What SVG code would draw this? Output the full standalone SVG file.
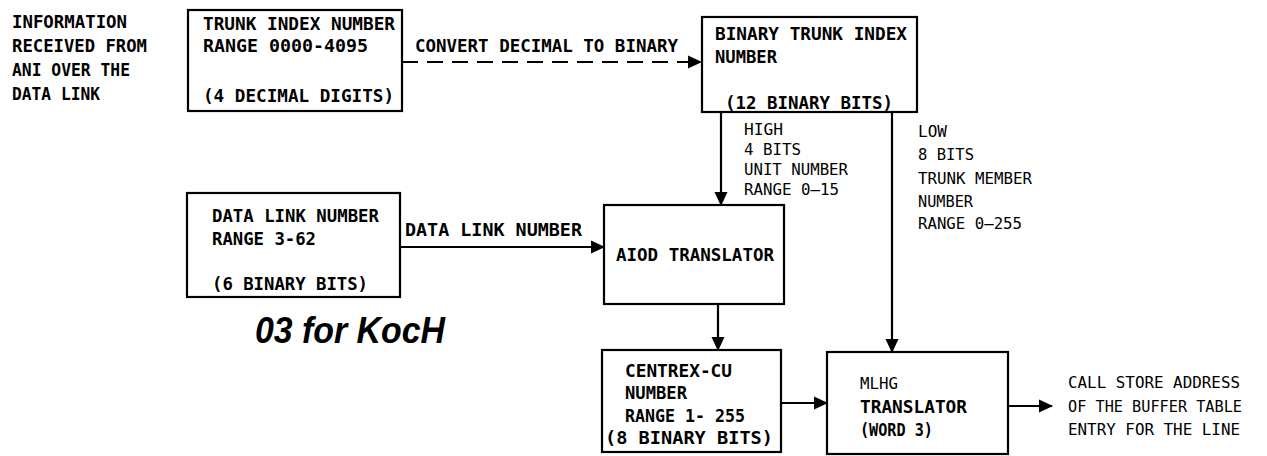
<svg xmlns="http://www.w3.org/2000/svg" width="1267" height="456" viewBox="0 0 1267 456">
  <style>
    .box { fill: #fff; stroke: #000; stroke-width: 2.2; }
    .wire { fill: none; stroke: #000; stroke-width: 2.2; }
    .dash { stroke-dasharray: 16 9; }
    .b { font-family: "DejaVu Sans Mono", "Liberation Mono", monospace; font-weight: bold; font-size: 17.5px; fill: #000; }
    .r { font-family: "DejaVu Sans Mono", "Liberation Mono", monospace; font-size: 16.5px; fill: #000; }
    .hand { font-family: "Liberation Sans", Arial, sans-serif; font-weight: bold; font-style: italic; font-size: 36px; fill: #000; }
  </style>
  <defs>
    <marker id="arrow" markerUnits="userSpaceOnUse" markerWidth="14" markerHeight="14" viewBox="0 0 14 14" refX="13" refY="7" orient="auto">
      <path d="M0,0.5 L14,7 L0,13.5 Z" fill="#000"/>
    </marker>
  </defs>

  <rect width="1267" height="456" fill="#fff"/>

  <!-- source note -->
  <g id="note-source">
    <text class="b" x="12" y="28" textLength="115" lengthAdjust="spacingAndGlyphs">INFORMATION</text>
    <text class="b" x="12" y="52" textLength="135" lengthAdjust="spacingAndGlyphs">RECEIVED FROM</text>
    <text class="b" x="12" y="76" textLength="118" lengthAdjust="spacingAndGlyphs">ANI OVER THE</text>
    <text class="b" x="12" y="100" textLength="88" lengthAdjust="spacingAndGlyphs">DATA LINK</text>
  </g>

  <!-- connectors -->
  <g id="connectors">
    <line class="wire dash" x1="402" y1="62" x2="701" y2="62" marker-end="url(#arrow)"/>
    <line class="wire" x1="721" y1="112" x2="721" y2="205" marker-end="url(#arrow)"/>
    <line class="wire" x1="892" y1="112" x2="892" y2="352" marker-end="url(#arrow)"/>
    <line class="wire" x1="400" y1="247" x2="604" y2="247" marker-end="url(#arrow)"/>
    <line class="wire" x1="718" y1="304" x2="718" y2="350" marker-end="url(#arrow)"/>
    <line class="wire" x1="781" y1="403" x2="827" y2="403" marker-end="url(#arrow)"/>
    <line class="wire" x1="1008" y1="406" x2="1052" y2="406" marker-end="url(#arrow)"/>

    <text class="b" x="415" y="52" textLength="263" lengthAdjust="spacingAndGlyphs">CONVERT DECIMAL TO BINARY</text>
    <text class="b" x="405" y="236" textLength="177" lengthAdjust="spacingAndGlyphs">DATA LINK NUMBER</text>

    <text class="r" x="744" y="135" textLength="39" lengthAdjust="spacingAndGlyphs">HIGH</text>
    <text class="r" x="744" y="155" textLength="57" lengthAdjust="spacingAndGlyphs">4 BITS</text>
    <text class="r" x="744" y="175" textLength="104" lengthAdjust="spacingAndGlyphs">UNIT NUMBER</text>
    <text class="r" x="744" y="195" textLength="95" lengthAdjust="spacingAndGlyphs">RANGE 0–15</text>

    <text class="r" x="918" y="137" textLength="29" lengthAdjust="spacingAndGlyphs">LOW</text>
    <text class="r" x="918" y="160" textLength="56" lengthAdjust="spacingAndGlyphs">8 BITS</text>
    <text class="r" x="918" y="184" textLength="114" lengthAdjust="spacingAndGlyphs">TRUNK MEMBER</text>
    <text class="r" x="918" y="207" textLength="55" lengthAdjust="spacingAndGlyphs">NUMBER</text>
    <text class="r" x="918" y="229" textLength="104" lengthAdjust="spacingAndGlyphs">RANGE 0–255</text>

    <text class="r" x="1068" y="388" textLength="172" lengthAdjust="spacingAndGlyphs">CALL STORE ADDRESS</text>
    <text class="r" x="1068" y="412" textLength="174" lengthAdjust="spacingAndGlyphs">OF THE BUFFER TABLE</text>
    <text class="r" x="1068" y="435" textLength="172" lengthAdjust="spacingAndGlyphs">ENTRY FOR THE LINE</text>
  </g>

  <!-- trunk index number -->
  <g id="trunk-index">
    <rect class="box" x="188" y="10" width="214" height="101"/>
    <text class="b" x="203" y="30" textLength="192" lengthAdjust="spacingAndGlyphs">TRUNK INDEX NUMBER</text>
    <text class="b" x="203" y="52" textLength="165" lengthAdjust="spacingAndGlyphs">RANGE 0000-4095</text>
    <text class="b" x="203" y="102" textLength="191" lengthAdjust="spacingAndGlyphs">(4 DECIMAL DIGITS)</text>
  </g>

  <!-- binary trunk index number -->
  <g id="binary-trunk-index">
    <rect class="box" x="702" y="17" width="215" height="95"/>
    <text class="b" x="715" y="40" textLength="192" lengthAdjust="spacingAndGlyphs">BINARY TRUNK INDEX</text>
    <text class="b" x="715" y="63" textLength="62" lengthAdjust="spacingAndGlyphs">NUMBER</text>
    <text class="b" x="725" y="109" textLength="168" lengthAdjust="spacingAndGlyphs">(12 BINARY BITS)</text>
  </g>

  <!-- data link number -->
  <g id="data-link">
    <rect class="box" x="187" y="193" width="213" height="104"/>
    <text class="b" x="212" y="222" textLength="167" lengthAdjust="spacingAndGlyphs">DATA LINK NUMBER</text>
    <text class="b" x="212" y="245" textLength="104" lengthAdjust="spacingAndGlyphs">RANGE 3-62</text>
    <text class="b" x="212" y="290" textLength="156" lengthAdjust="spacingAndGlyphs">(6 BINARY BITS)</text>
  </g>

  <!-- handwritten annotation -->
  <g id="annotation">
    <text class="hand" x="255" y="343" textLength="190" lengthAdjust="spacingAndGlyphs">03 for KocH</text>
  </g>

  <!-- AIOD translator -->
  <g id="aiod-translator">
    <rect class="box" x="604" y="205" width="180" height="99"/>
    <text class="b" x="616" y="261" textLength="158" lengthAdjust="spacingAndGlyphs">AIOD TRANSLATOR</text>
  </g>

  <!-- centrex-cu number -->
  <g id="centrex-cu">
    <rect class="box" x="602" y="350" width="179" height="102"/>
    <text class="b" x="625" y="377" textLength="107" lengthAdjust="spacingAndGlyphs">CENTREX-CU</text>
    <text class="b" x="625" y="399" textLength="62" lengthAdjust="spacingAndGlyphs">NUMBER</text>
    <text class="b" x="625" y="422" textLength="120" lengthAdjust="spacingAndGlyphs">RANGE 1- 255</text>
    <text class="b" x="605" y="444" textLength="168" lengthAdjust="spacingAndGlyphs">(8 BINARY BITS)</text>
  </g>

  <!-- MLHG translator -->
  <g id="mlhg-translator">
    <rect class="box" x="827" y="352" width="181" height="102"/>
    <text class="r" x="860" y="389" textLength="38" lengthAdjust="spacingAndGlyphs">MLHG</text>
    <text class="b" x="860" y="413" textLength="107" lengthAdjust="spacingAndGlyphs">TRANSLATOR</text>
    <text class="b" x="860" y="436" textLength="73" lengthAdjust="spacingAndGlyphs">(WORD 3)</text>
  </g>
</svg>
